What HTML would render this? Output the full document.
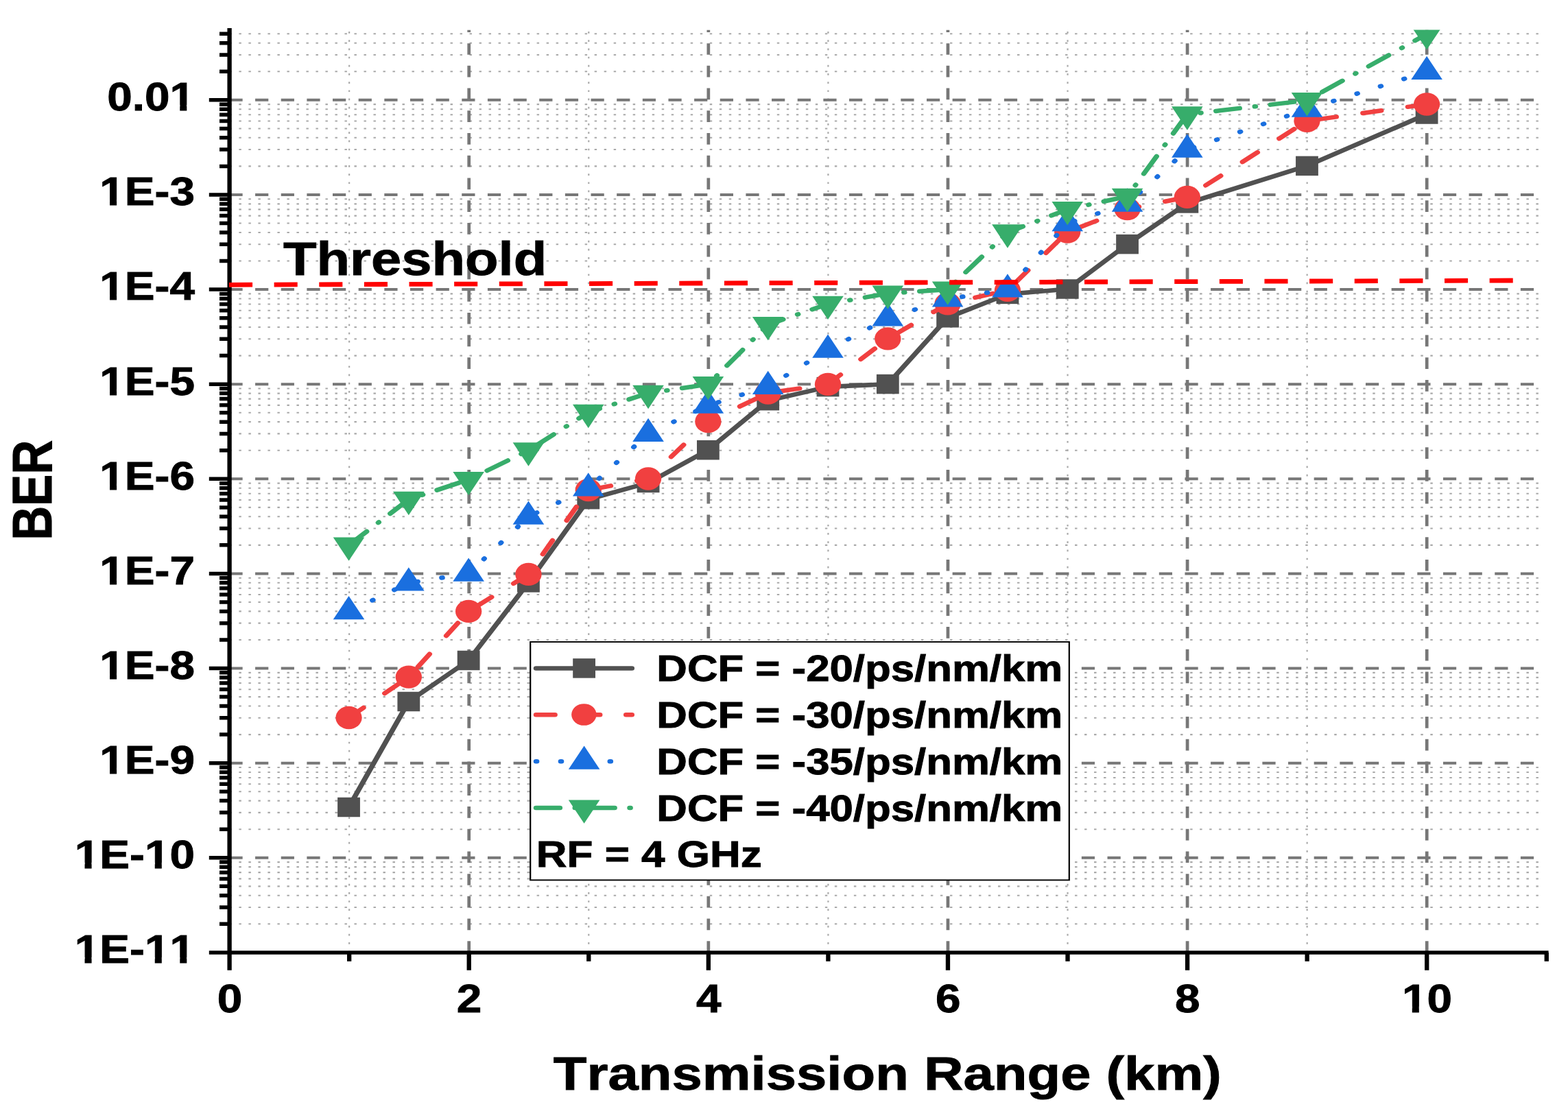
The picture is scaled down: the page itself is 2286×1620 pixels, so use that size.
<!DOCTYPE html>
<html lang="en"><head><meta charset="utf-8"><title>BER vs Transmission Range</title>
<style>html,body{margin:0;padding:0;background:#fff}body{width:2286px;height:1620px}svg{display:block}text{font-family:"Liberation Sans",Arial,Helvetica,sans-serif;font-weight:bold;font-kerning:none;fill:#000;stroke:#000;stroke-width:0.9px;stroke-linejoin:miter}</style>
</head><body>
<svg width="2286" height="1620" viewBox="0 0 2286 1620">
<rect width="2286" height="1620" fill="#fff"/>
<defs><clipPath id="plot"><rect x="290.7" y="43.5" width="1665.86" height="1345.38"/></clipPath></defs>
<g transform="scale(1.151,1)">
<g clip-path="url(#plot)" fill="none">
<path d="M290.7 1347.31H1956.56M290.7 1322.99H1956.56M290.7 1305.73H1956.56M290.7 1292.35H1956.56M290.7 1281.41H1956.56M290.7 1272.16H1956.56M290.7 1264.15H1956.56M290.7 1257.09H1956.56M290.7 1209.19H1956.56M290.7 1184.87H1956.56M290.7 1167.62H1956.56M290.7 1154.23H1956.56M290.7 1143.3H1956.56M290.7 1134.05H1956.56M290.7 1126.04H1956.56M290.7 1118.97H1956.56M290.7 1071.08H1956.56M290.7 1046.76H1956.56M290.7 1029.5H1956.56M290.7 1016.12H1956.56M290.7 1005.18H1956.56M290.7 995.93H1956.56M290.7 987.92H1956.56M290.7 980.86H1956.56M290.7 932.96H1956.56M290.7 908.64H1956.56M290.7 891.39H1956.56M290.7 878H1956.56M290.7 867.07H1956.56M290.7 857.82H1956.56M290.7 849.81H1956.56M290.7 842.74H1956.56M290.7 794.85H1956.56M290.7 770.53H1956.56M290.7 753.27H1956.56M290.7 739.89H1956.56M290.7 728.95H1956.56M290.7 719.7H1956.56M290.7 711.69H1956.56M290.7 704.63H1956.56M290.7 656.73H1956.56M290.7 632.41H1956.56M290.7 615.16H1956.56M290.7 601.77H1956.56M290.7 590.84H1956.56M290.7 581.59H1956.56M290.7 573.58H1956.56M290.7 566.51H1956.56M290.7 518.62H1956.56M290.7 494.3H1956.56M290.7 477.04H1956.56M290.7 463.66H1956.56M290.7 452.72H1956.56M290.7 443.47H1956.56M290.7 435.46H1956.56M290.7 428.4H1956.56M290.7 380.5H1956.56M290.7 356.18H1956.56M290.7 338.93H1956.56M290.7 325.54H1956.56M290.7 314.61H1956.56M290.7 305.36H1956.56M290.7 297.35H1956.56M290.7 290.28H1956.56M290.7 242.39H1956.56M290.7 218.07H1956.56M290.7 200.81H1956.56M290.7 187.43H1956.56M290.7 176.49H1956.56M290.7 167.24H1956.56M290.7 159.23H1956.56M290.7 152.17H1956.56M290.7 104.27H1956.56M290.7 79.95H1956.56M290.7 62.7H1956.56M290.7 49.31H1956.56" stroke="#a9a9a9" stroke-width="2.1" stroke-dasharray="3.0 9.170" stroke-dashoffset="0.2"/>
<path d="M442.36 1388.88V43.5M745.68 1388.88V43.5M1049 1388.88V43.5M1352.32 1388.88V43.5M1655.64 1388.88V43.5" stroke="#a9a9a9" stroke-width="1.9" stroke-dasharray="2.7 9.483" stroke-dashoffset="0.05"/>
<path d="M290.7 1250.77H1956.56M290.7 1112.65H1956.56M290.7 974.54H1956.56M290.7 836.43H1956.56M290.7 698.31H1956.56M290.7 560.2H1956.56M290.7 422.08H1956.56M290.7 283.97H1956.56M290.7 145.85H1956.56" stroke="#777777" stroke-width="4.0" stroke-dasharray="16.7 16.01" stroke-dashoffset="0.15"/>
<path d="M594.02 1388.88V43.5M897.34 1388.88V43.5M1200.66 1388.88V43.5M1503.98 1388.88V43.5M1807.3 1388.88V43.5" stroke="#777777" stroke-width="4.1" stroke-dasharray="16.7 16.03" stroke-dashoffset="0.15"/>
</g>
<g clip-path="url(#plot)">
<polyline points="441.81,1177 517.66,1023 593.52,963 669.37,849.4 745.23,728.2 821.09,704 896.94,656.2 972.8,584.2 1048.65,564.1 1124.51,560.1 1200.36,463.3 1276.22,428.9 1352.08,421.5 1427.93,356.1 1503.79,296.4 1655.5,241.9 1807.21,166.5" fill="none" stroke="#515151" stroke-width="6.5" stroke-linecap="round" stroke-linejoin="round"/>
<g fill="#515151"><rect x="427.56" y="1162.75" width="28.5" height="28.5"/><rect x="503.41" y="1008.75" width="28.5" height="28.5"/><rect x="579.27" y="948.75" width="28.5" height="28.5"/><rect x="655.12" y="835.15" width="28.5" height="28.5"/><rect x="730.98" y="713.95" width="28.5" height="28.5"/><rect x="806.84" y="689.75" width="28.5" height="28.5"/><rect x="882.69" y="641.95" width="28.5" height="28.5"/><rect x="958.55" y="569.95" width="28.5" height="28.5"/><rect x="1034.4" y="549.85" width="28.5" height="28.5"/><rect x="1110.26" y="545.85" width="28.5" height="28.5"/><rect x="1186.11" y="449.05" width="28.5" height="28.5"/><rect x="1261.97" y="414.65" width="28.5" height="28.5"/><rect x="1337.83" y="407.25" width="28.5" height="28.5"/><rect x="1413.68" y="341.85" width="28.5" height="28.5"/><rect x="1489.54" y="282.15" width="28.5" height="28.5"/><rect x="1641.25" y="227.65" width="28.5" height="28.5"/><rect x="1792.96" y="152.25" width="28.5" height="28.5"/></g>
<polyline points="441.81,1046.5 517.66,987.2 593.52,891.4 669.37,837.4 745.23,714.6 821.09,698 896.94,614.6 972.8,573.1 1048.65,560.4 1124.51,493.9 1200.36,442.9 1276.22,423.3 1352.08,338.2 1427.93,304.7 1503.79,287.4 1655.5,176.3 1807.21,152" fill="none" stroke="#F14040" stroke-width="6.5" stroke-linecap="round" stroke-linejoin="round" stroke-dasharray="23.6 34.07"/>
<g fill="#F14040"><circle cx="441.81" cy="1046.5" r="16.65"/><circle cx="517.66" cy="987.2" r="16.65"/><circle cx="593.52" cy="891.4" r="16.65"/><circle cx="669.37" cy="837.4" r="16.65"/><circle cx="745.23" cy="714.6" r="16.65"/><circle cx="821.09" cy="698" r="16.65"/><circle cx="896.94" cy="614.6" r="16.65"/><circle cx="972.8" cy="573.1" r="16.65"/><circle cx="1048.65" cy="560.4" r="16.65"/><circle cx="1124.51" cy="493.9" r="16.65"/><circle cx="1200.36" cy="442.9" r="16.65"/><circle cx="1276.22" cy="423.3" r="16.65"/><circle cx="1352.08" cy="338.2" r="16.65"/><circle cx="1427.93" cy="304.7" r="16.65"/><circle cx="1503.79" cy="287.4" r="16.65"/><circle cx="1655.5" cy="176.3" r="16.65"/><circle cx="1807.21" cy="152" r="16.65"/></g>
<polyline points="441.81,891.8 517.66,850 593.52,836.4 669.37,753.3 745.23,712 821.09,632.5 896.94,591.2 972.8,563.6 1048.65,510.3 1124.51,464.1 1200.36,436.1 1276.22,422.1 1352.08,325.7 1427.93,297.2 1503.79,218.2 1655.5,159.4 1807.21,104.6" fill="none" stroke="#1A6FDF" stroke-width="6.5" stroke-linecap="round" stroke-linejoin="round" stroke-dasharray="1 30.66" stroke-dashoffset="-2.4"/>
<g fill="#1A6FDF"><path d="M441.81 868.93L461.61 903.23L422.01 903.23Z"/><path d="M517.66 827.13L537.46 861.43L497.86 861.43Z"/><path d="M593.52 813.53L613.32 847.83L573.72 847.83Z"/><path d="M669.37 730.43L689.17 764.73L649.57 764.73Z"/><path d="M745.23 689.13L765.03 723.43L725.43 723.43Z"/><path d="M821.09 609.63L840.89 643.93L801.29 643.93Z"/><path d="M896.94 568.33L916.74 602.63L877.14 602.63Z"/><path d="M972.8 540.73L992.6 575.03L953 575.03Z"/><path d="M1048.65 487.43L1068.45 521.73L1028.85 521.73Z"/><path d="M1124.51 441.23L1144.31 475.53L1104.71 475.53Z"/><path d="M1200.36 413.23L1220.16 447.53L1180.56 447.53Z"/><path d="M1276.22 399.23L1296.02 433.53L1256.42 433.53Z"/><path d="M1352.08 302.83L1371.88 337.13L1332.28 337.13Z"/><path d="M1427.93 274.33L1447.73 308.63L1408.13 308.63Z"/><path d="M1503.79 195.33L1523.59 229.63L1483.99 229.63Z"/><path d="M1655.5 136.53L1675.3 170.83L1635.7 170.83Z"/><path d="M1807.21 81.73L1827.01 116.03L1787.41 116.03Z"/></g>
<polyline points="441.81,794.9 517.66,728.3 593.52,699.4 669.37,656.8 745.23,601.3 821.09,573.3 896.94,560.4 972.8,473.4 1048.65,443.2 1124.51,427.9 1200.36,422 1276.22,338.8 1352.08,305.4 1427.93,286.2 1503.79,166.8 1655.5,146.4 1807.21,49.7" fill="none" stroke="#37AD6B" stroke-width="6.5" stroke-linecap="round" stroke-linejoin="round" stroke-dasharray="30.2 19.4 1 19.05"/>
<g fill="#37AD6B"><path d="M441.81 817.77L461.61 783.47L422.01 783.47Z"/><path d="M517.66 751.17L537.46 716.87L497.86 716.87Z"/><path d="M593.52 722.27L613.32 687.97L573.72 687.97Z"/><path d="M669.37 679.67L689.17 645.37L649.57 645.37Z"/><path d="M745.23 624.17L765.03 589.87L725.43 589.87Z"/><path d="M821.09 596.17L840.89 561.87L801.29 561.87Z"/><path d="M896.94 583.27L916.74 548.97L877.14 548.97Z"/><path d="M972.8 496.27L992.6 461.97L953 461.97Z"/><path d="M1048.65 466.07L1068.45 431.77L1028.85 431.77Z"/><path d="M1124.51 450.77L1144.31 416.47L1104.71 416.47Z"/><path d="M1200.36 444.87L1220.16 410.57L1180.56 410.57Z"/><path d="M1276.22 361.67L1296.02 327.37L1256.42 327.37Z"/><path d="M1352.08 328.27L1371.88 293.97L1332.28 293.97Z"/><path d="M1427.93 309.07L1447.73 274.77L1408.13 274.77Z"/><path d="M1503.79 189.67L1523.59 155.37L1483.99 155.37Z"/><path d="M1655.5 169.27L1675.3 134.97L1635.7 134.97Z"/><path d="M1807.21 72.57L1827.01 38.27L1787.41 38.27Z"/></g>
</g>
<g stroke="#000" stroke-width="5.5" fill="none"><path d="M290.7 41V1414.8M264.81 1388.88H1961.42M264.81 1250.77H290.7M264.81 1112.65H290.7M264.81 974.54H290.7M264.81 836.43H290.7M264.81 698.31H290.7M264.81 560.2H290.7M264.81 422.08H290.7M264.81 283.97H290.7M264.81 145.85H290.7M278.02 1347.31H290.7M278.02 1322.99H290.7M278.02 1305.73H290.7M278.02 1292.35H290.7M278.02 1281.41H290.7M278.02 1272.16H290.7M278.02 1264.15H290.7M278.02 1257.09H290.7M278.02 1209.19H290.7M278.02 1184.87H290.7M278.02 1167.62H290.7M278.02 1154.23H290.7M278.02 1143.3H290.7M278.02 1134.05H290.7M278.02 1126.04H290.7M278.02 1118.97H290.7M278.02 1071.08H290.7M278.02 1046.76H290.7M278.02 1029.5H290.7M278.02 1016.12H290.7M278.02 1005.18H290.7M278.02 995.93H290.7M278.02 987.92H290.7M278.02 980.86H290.7M278.02 932.96H290.7M278.02 908.64H290.7M278.02 891.39H290.7M278.02 878H290.7M278.02 867.07H290.7M278.02 857.82H290.7M278.02 849.81H290.7M278.02 842.74H290.7M278.02 794.85H290.7M278.02 770.53H290.7M278.02 753.27H290.7M278.02 739.89H290.7M278.02 728.95H290.7M278.02 719.7H290.7M278.02 711.69H290.7M278.02 704.63H290.7M278.02 656.73H290.7M278.02 632.41H290.7M278.02 615.16H290.7M278.02 601.77H290.7M278.02 590.84H290.7M278.02 581.59H290.7M278.02 573.58H290.7M278.02 566.51H290.7M278.02 518.62H290.7M278.02 494.3H290.7M278.02 477.04H290.7M278.02 463.66H290.7M278.02 452.72H290.7M278.02 443.47H290.7M278.02 435.46H290.7M278.02 428.4H290.7M278.02 380.5H290.7M278.02 356.18H290.7M278.02 338.93H290.7M278.02 325.54H290.7M278.02 314.61H290.7M278.02 305.36H290.7M278.02 297.35H290.7M278.02 290.28H290.7M278.02 242.39H290.7M278.02 218.07H290.7M278.02 200.81H290.7M278.02 187.43H290.7M278.02 176.49H290.7M278.02 167.24H290.7M278.02 159.23H290.7M278.02 152.17H290.7M278.02 104.27H290.7M278.02 79.95H290.7M278.02 62.7H290.7M278.02 49.31H290.7M594.02 1388.88V1414.8M897.34 1388.88V1414.8M1200.66 1388.88V1414.8M1503.98 1388.88V1414.8M1807.3 1388.88V1414.8M442.36 1388.88V1401.7M745.68 1388.88V1401.7M1049 1388.88V1401.7M1352.32 1388.88V1401.7M1655.64 1388.88V1401.7M1958.96 1388.88V1401.7"/></g>
<rect x="671.76" y="936" width="682.54" height="347.3" fill="#fff" stroke="#000" stroke-width="1.9"/>
<path d="M678.97 974.4H800.43" fill="none" stroke="#515151" stroke-width="6.5" stroke-linecap="round"/>
<g fill="#515151"><rect x="725.63" y="960.15" width="28.5" height="28.5"/></g>
<path d="M678.97 1042.3H800.43" fill="none" stroke="#F14040" stroke-width="6.5" stroke-linecap="round" stroke-dasharray="24 33"/>
<g fill="#F14040"><circle cx="739.7" cy="1042" r="15.85"/></g>
<path d="M678.97 1110.3H800.43" fill="none" stroke="#1A6FDF" stroke-width="6.5" stroke-linecap="round" stroke-dasharray="1 30.2"/>
<g fill="#1A6FDF"><path d="M739.88 1087.43L759.68 1121.73L720.08 1121.73Z"/></g>
<path d="M678.97 1177.9H800.43" fill="none" stroke="#37AD6B" stroke-width="6.5" stroke-linecap="round" stroke-dasharray="30.3 19 1 19"/>
<g fill="#37AD6B"><path d="M739.88 1200.77L759.68 1166.47L720.08 1166.47Z"/></g>
<path d="M290.18 415.3L1916.85 409.0" fill="none" stroke="#FF0000" stroke-width="6.8" stroke-dasharray="29.62 27.4"/>
</g>
<text transform="translate(334.9,1476) scale(1.1464,0.9880)" font-size="57.3" text-anchor="middle">0</text>
<text transform="translate(684.02,1476) scale(1.1464,0.9880)" font-size="57.3" text-anchor="middle">2</text>
<text transform="translate(1033.14,1476) scale(1.1464,0.9880)" font-size="57.3" text-anchor="middle">4</text>
<text transform="translate(1382.26,1476) scale(1.1464,0.9880)" font-size="57.3" text-anchor="middle">6</text>
<text transform="translate(1731.38,1476) scale(1.1464,0.9880)" font-size="57.3" text-anchor="middle">8</text>
<text transform="translate(2080.5,1476) scale(1.1464,0.9880)" font-size="57.3" text-anchor="middle">10</text>
<text transform="translate(284,161.25) scale(1.1464,0.9880)" font-size="57.3" text-anchor="end">0.01</text>
<text transform="translate(284,299.37) scale(1.1464,0.9880)" font-size="57.3" text-anchor="end">1E-3</text>
<text transform="translate(284,437.48) scale(1.1464,0.9880)" font-size="57.3" text-anchor="end">1E-4</text>
<text transform="translate(284,575.6) scale(1.1464,0.9880)" font-size="57.3" text-anchor="end">1E-5</text>
<text transform="translate(284,713.71) scale(1.1464,0.9880)" font-size="57.3" text-anchor="end">1E-6</text>
<text transform="translate(284,851.83) scale(1.1464,0.9880)" font-size="57.3" text-anchor="end">1E-7</text>
<text transform="translate(284,989.94) scale(1.1464,0.9880)" font-size="57.3" text-anchor="end">1E-8</text>
<text transform="translate(284,1128.06) scale(1.1464,0.9880)" font-size="57.3" text-anchor="end">1E-9</text>
<text transform="translate(284,1266.17) scale(1.1464,0.9880)" font-size="57.3" text-anchor="end">1E-10</text>
<text transform="translate(284,1404.29) scale(1.1464,0.9880)" font-size="57.3" text-anchor="end">1E-11</text>
<text transform="translate(1293.8,1589) scale(1.1516,1.0000)" font-size="69.2" text-anchor="middle">Transmission Range (km)</text>
<text transform="translate(74.8,714.8) rotate(-90) scale(1.0000,1.1812)" font-size="69.2" text-anchor="middle">BER</text>
<text transform="translate(957.3,993.3) scale(1.1439,1.0100)" font-size="54">DCF = -20/ps/nm/km</text>
<text transform="translate(957.3,1061.2) scale(1.1439,1.0100)" font-size="54">DCF = -30/ps/nm/km</text>
<text transform="translate(957.3,1129.2) scale(1.1439,1.0100)" font-size="54">DCF = -35/ps/nm/km</text>
<text transform="translate(957.3,1196.8) scale(1.1439,1.0100)" font-size="54">DCF = -40/ps/nm/km</text>
<text transform="translate(781.8,1263.7) scale(1.1482,1.0100)" font-size="54">RF = 4 GHz</text>
<text transform="translate(413,400.9) scale(1.1487,1.0000)" font-size="69.2">Threshold</text>
<g fill="#fff"><rect x="2045.6" y="1467.62" width="13.17" height="11.38"/><rect x="2068.83" y="1467.62" width="12.34" height="11.38"/><rect x="249.1" y="152.87" width="13.17" height="11.38"/><rect x="272.33" y="152.87" width="12.34" height="11.38"/><rect x="146.88" y="290.99" width="13.17" height="11.38"/><rect x="170.11" y="290.99" width="12.34" height="11.38"/><rect x="146.88" y="429.1" width="13.17" height="11.38"/><rect x="170.11" y="429.1" width="12.34" height="11.38"/><rect x="146.88" y="567.22" width="13.17" height="11.38"/><rect x="170.11" y="567.22" width="12.34" height="11.38"/><rect x="146.88" y="705.33" width="13.17" height="11.38"/><rect x="170.11" y="705.33" width="12.34" height="11.38"/><rect x="146.88" y="843.45" width="13.17" height="11.38"/><rect x="170.11" y="843.45" width="12.34" height="11.38"/><rect x="146.88" y="981.56" width="13.17" height="11.38"/><rect x="170.11" y="981.56" width="12.34" height="11.38"/><rect x="146.88" y="1119.68" width="13.17" height="11.38"/><rect x="170.11" y="1119.68" width="12.34" height="11.38"/><rect x="110.35" y="1257.79" width="13.17" height="11.38"/><rect x="133.58" y="1257.79" width="12.34" height="11.38"/><rect x="212.57" y="1257.79" width="13.17" height="11.38"/><rect x="235.8" y="1257.79" width="12.34" height="11.38"/><rect x="110.35" y="1395.91" width="13.17" height="11.38"/><rect x="133.58" y="1395.91" width="12.34" height="11.38"/><rect x="212.57" y="1395.91" width="13.17" height="11.38"/><rect x="235.8" y="1395.91" width="12.34" height="11.38"/><rect x="249.1" y="1395.91" width="13.17" height="11.38"/><rect x="272.33" y="1395.91" width="12.34" height="11.38"/></g>
</svg>
</body></html>
